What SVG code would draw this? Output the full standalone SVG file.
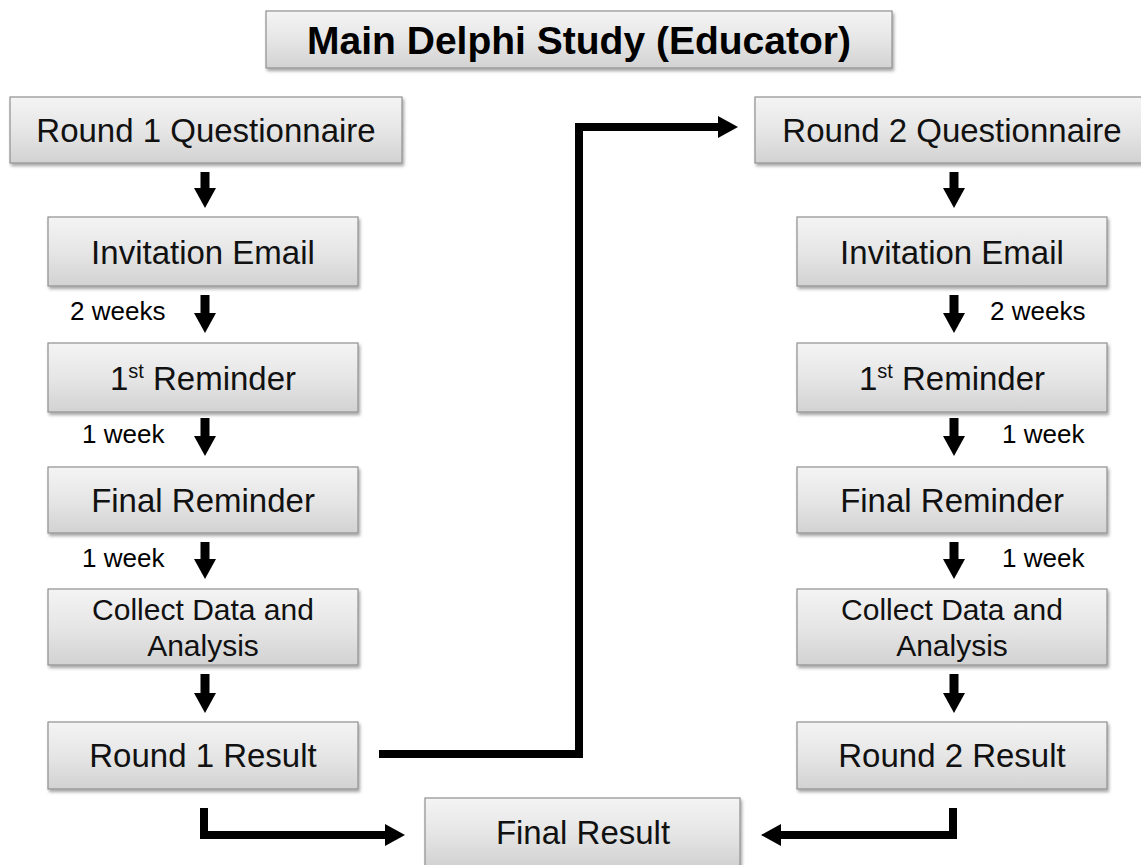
<svg xmlns="http://www.w3.org/2000/svg" width="1141" height="865" viewBox="0 0 1141 865">
<defs>
<linearGradient id="g" x1="0" y1="0" x2="0" y2="1">
<stop offset="0" stop-color="#f4f4f4"/>
<stop offset="0.5" stop-color="#e6e6e6"/>
<stop offset="1" stop-color="#d2d2d2"/>
</linearGradient>
<filter id="sh" x="-5%" y="-10%" width="110%" height="130%">
<feDropShadow dx="1.5" dy="2.5" stdDeviation="1.8" flood-color="#000" flood-opacity="0.35"/>
</filter>
<marker id="head" markerUnits="userSpaceOnUse" viewBox="0 0 20 22" markerWidth="20" markerHeight="22" refX="0" refY="11" orient="auto">
<path d="M0,0 L20,11 L0,22 Z" fill="#000"/>
</marker>
<style>
.box{fill:url(#g);stroke:#8f8f8f;stroke-width:1.2;filter:url(#sh)}
.t{font-family:"Liberation Sans",Arial,sans-serif;font-size:33px;fill:#111;text-anchor:middle}
.t30{font-family:"Liberation Sans",Arial,sans-serif;font-size:30px;fill:#111;text-anchor:middle}
.title{font-family:"Liberation Sans",Arial,sans-serif;font-size:39px;font-weight:bold;fill:#000;text-anchor:middle}
.lbl{font-family:"Liberation Sans",Arial,sans-serif;font-size:26px;fill:#000}
.down{stroke:#000;stroke-width:9;fill:none;marker-end:url(#head)}
.elbow{stroke:#000;stroke-width:8;fill:none;stroke-linejoin:miter;marker-end:url(#head)}
</style>
</defs>
<rect width="1141" height="865" fill="#fff"/>

<g id="title">
<rect class="box" x="266" y="11" width="626" height="57"/>
<text class="title" x="579" y="54">Main Delphi Study (Educator)</text>
</g>

<g id="r1q"><rect class="box" x="10" y="97" width="392" height="66"/><text class="t" x="206" y="142">Round 1 Questionnaire</text></g>
<g id="r1inv"><rect class="box" x="48" y="217" width="310" height="69"/><text class="t" x="203" y="264">Invitation Email</text></g>
<g id="r1rem1"><rect class="box" x="48" y="343" width="310" height="69"/><text class="t" x="203" y="390"><tspan>1</tspan><tspan font-size="20" dy="-12">st</tspan><tspan dy="12"> Reminder</tspan></text></g>
<g id="r1final"><rect class="box" x="48" y="467" width="310" height="66"/><text class="t" x="203" y="512">Final Reminder</text></g>
<g id="r1collect"><rect class="box" x="48" y="589" width="310" height="76"/><text class="t30" x="203" y="620">Collect Data and</text><text class="t30" x="203" y="656">Analysis</text></g>
<g id="r1result"><rect class="box" x="48" y="722" width="310" height="67"/><text class="t" x="203" y="767">Round 1 Result</text></g>

<g id="r2q"><rect class="box" x="755" y="97" width="395" height="66"/><text class="t" x="952" y="142">Round 2 Questionnaire</text></g>
<g id="r2inv"><rect class="box" x="797" y="217" width="310" height="69"/><text class="t" x="952" y="264">Invitation Email</text></g>
<g id="r2rem1"><rect class="box" x="797" y="343" width="310" height="69"/><text class="t" x="952" y="390"><tspan>1</tspan><tspan font-size="20" dy="-12">st</tspan><tspan dy="12"> Reminder</tspan></text></g>
<g id="r2final"><rect class="box" x="797" y="467" width="310" height="66"/><text class="t" x="952" y="512">Final Reminder</text></g>
<g id="r2collect"><rect class="box" x="797" y="589" width="310" height="76"/><text class="t30" x="952" y="620">Collect Data and</text><text class="t30" x="952" y="656">Analysis</text></g>
<g id="r2result"><rect class="box" x="797" y="722" width="310" height="67"/><text class="t" x="952" y="767">Round 2 Result</text></g>

<g id="finalresult"><rect class="box" x="425" y="798" width="315" height="68"/><text class="t" x="583" y="844">Final Result</text></g>

<g id="connectors">
<line class="down" x1="205" y1="172" x2="205" y2="188"/>
<line class="down" x1="205" y1="295" x2="205" y2="313"/>
<line class="down" x1="205" y1="418" x2="205" y2="436"/>
<line class="down" x1="205" y1="542" x2="205" y2="559"/>
<line class="down" x1="205" y1="674" x2="205" y2="693"/>
<line class="down" x1="954" y1="172" x2="954" y2="188"/>
<line class="down" x1="954" y1="295" x2="954" y2="313"/>
<line class="down" x1="954" y1="418" x2="954" y2="436"/>
<line class="down" x1="954" y1="542" x2="954" y2="559"/>
<line class="down" x1="954" y1="674" x2="954" y2="693"/>
<path class="elbow" d="M379,754 L579,754 L579,127 L718,127"/>
<path class="elbow" d="M204,808 L204,835 L385,835"/>
<path class="elbow" d="M953,808 L953,835 L781,835"/>
</g>

<g id="labels">
<text class="lbl" x="70" y="320">2 weeks</text>
<text class="lbl" x="82" y="443">1 week</text>
<text class="lbl" x="82" y="567">1 week</text>
<text class="lbl" x="990" y="320">2 weeks</text>
<text class="lbl" x="1002" y="443">1 week</text>
<text class="lbl" x="1002" y="567">1 week</text>
</g>
</svg>
